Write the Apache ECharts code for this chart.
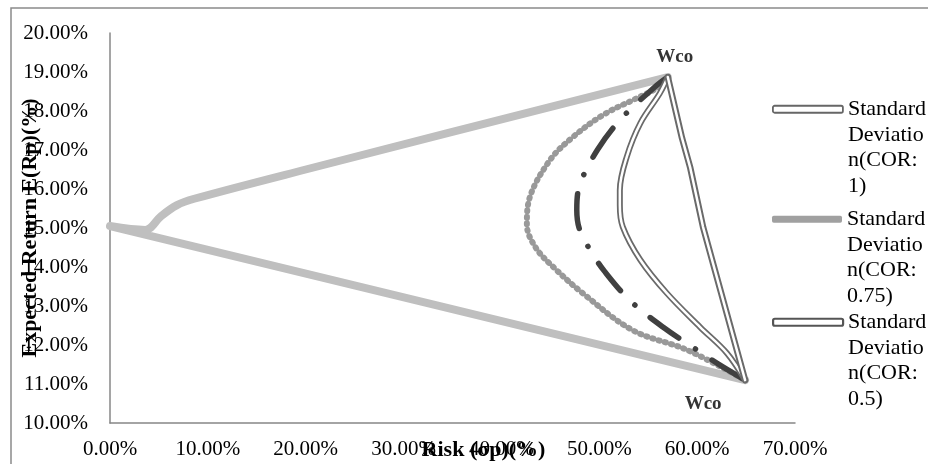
<!DOCTYPE html>
<html>
<head>
<meta charset="utf-8">
<script src="https://cdn.jsdelivr.net/npm/echarts@6/dist/echarts.min.js"></script>
<style>
  html, body { margin: 0; padding: 0; background: #fff; }
  #main { width: 928px; height: 464px; }
</style>
</head>
<body>
<div id="main"></div>
<script>
// [risk σp (%), expected return E(Rp) (%)]
const corOne = [[57.0, 18.87], [58.45, 17.31], [59.3, 16.54], [60.6, 15.03], [64.9, 11.1]];
const corHalf = [[57.0, 18.87], [56.2, 18.46], [54.2, 17.69], [52.8, 16.82], [52.1, 15.97], [52.1, 15.59],
  [52.4, 15.03], [54.2, 14.18], [56.9, 13.33], [60.3, 12.46], [63.05, 11.79], [64.9, 11.1]];
const corQuarter = [[57.0, 18.87], [55.7, 18.62], [52.3, 17.82], [49.8, 17.0], [48.0, 16.1], [47.7, 15.46],
  [48.0, 14.95], [49.25, 14.36], [50.5, 13.9], [53.1, 13.15], [56.5, 12.46], [60.0, 11.87], [62.3, 11.49], [64.9, 11.1]];
const corZero = [[57.0, 18.87], [55.9, 18.59], [53.85, 18.33], [50.4, 17.9], [47.2, 17.31], [44.96, 16.74],
  [42.9, 15.79], [42.6, 15.08], [43.5, 14.5], [45.3, 14.0], [48.3, 13.33], [53.4, 12.38], [59.0, 11.87], [64.9, 11.1]];
const corNegOne = [[64.9, 11.1], [0, 15.05], [3.6, 14.95], [5.2, 15.3], [6.8, 15.58], [8.6, 15.75], [20, 16.5], [57.0, 18.87]];
const wcoPoints = [[57.0, 18.87], [64.9, 11.1]];

const xMin = 0, xMax = 70, xStep = 10;
const yMin = 10, yMax = 20, yStep = 1;

const legendNames = ["Standard Deviation(COR: 1)", "Standard Deviation(COR: 0.75)", "Standard Deviation(COR: 0.5)"];
// three blank lines first so the first text line sits level with the icon
const legendWrapped = {
  "Standard Deviation(COR: 1)": "\n\n\nStandard\nDeviatio\nn(COR:\n1)",
  "Standard Deviation(COR: 0.75)": "\n\n\nStandard\nDeviatio\nn(COR:\n0.75)",
  "Standard Deviation(COR: 0.5)": "\n\n\nStandard\nDeviatio\nn(COR:\n0.5)"
};

const serif = "Liberation Serif";

const legendIcons = [
  { color: "#fff", borderColor: "#666", borderWidth: 1.8 },
  { color: "#a0a0a0", borderColor: "#a0a0a0", borderWidth: 0 },
  { color: "#fff", borderColor: "#555", borderWidth: 2.2 }
];
const legendTops = [20, 130, 233];

function makeLegend(i) {
  return {
    left: 772,
    top: legendTops[i],
    orient: "vertical",
    padding: 0,
    itemWidth: 70,
    itemHeight: 7,
    itemGap: 0,
    selectedMode: false,
    data: [{ name: legendNames[i], icon: "roundRect", itemStyle: legendIcons[i] }],
    formatter: name => legendWrapped[name],
    textStyle: {
      fontFamily: serif,
      fontSize: 22,
      lineHeight: 25.5,
      color: "#000"
    }
  };
}

function lineSeries(name, data, style, z) {
  return {
    name: name,
    type: "line",
    data: data,
    showSymbol: false,
    symbol: "none",
    smooth: 0.35,
    z: z,
    silent: true,
    lineStyle: style,
    itemStyle: { color: style.color }
  };
}

const chart = echarts.init(document.getElementById("main"));
chart.setOption({
  animation: false,
  backgroundColor: "#fff",
  legend: [makeLegend(0), makeLegend(1), makeLegend(2)],
  grid: { left: 110, right: 133, top: 33, bottom: 41, outerBoundsMode: "none", containLabel: false },
  xAxis: {
    type: "value",
    min: xMin,
    max: xMax,
    interval: xStep,
    name: "Risk (σp)(%)",
    nameLocation: "middle",
    nameGap: 16,
    nameMoveOverlap: false,
    nameTextStyle: { fontFamily: serif, fontSize: 22, fontWeight: "bold", color: "#000", padding: [0, 0, 0, 62] },
    axisLine: { show: true, lineStyle: { color: "#878787", width: 1.5 } },
    axisTick: { show: false },
    splitLine: { show: false },
    axisLabel: {
      margin: 16,
      fontFamily: serif,
      fontSize: 21,
      color: "#000",
      formatter: v => v.toFixed(2) + "%"
    }
  },
  yAxis: {
    type: "value",
    min: yMin,
    max: yMax,
    interval: yStep,
    name: "Expected Return E(Rp)(%)",
    nameLocation: "middle",
    nameRotate: 90,
    nameGap: 69,
    nameMoveOverlap: false,
    nameTextStyle: { fontFamily: serif, fontSize: 22, fontWeight: "bold", color: "#000" },
    axisLine: { show: true, lineStyle: { color: "#878787", width: 1.5 } },
    axisTick: { show: false },
    splitLine: { show: false },
    axisLabel: {
      margin: 22,
      fontFamily: serif,
      fontSize: 21,
      color: "#000",
      formatter: v => v.toFixed(2) + "%"
    }
  },
  graphic: [{
    type: "rect",
    shape: { x: 11, y: 8, width: 1000, height: 1000 },
    style: { fill: "none", stroke: "#8a8a8a", lineWidth: 1.5 },
    silent: true
  }],
  series: [
    lineSeries("Standard Deviation(COR: -1)", corNegOne,
      { color: "#bfbfbf", width: 8, cap: "round", join: "round" }, 2),
    lineSeries("Standard Deviation(COR: 0.75)", corZero,
      { color: "#999", width: 6, type: [1, 5.5], cap: "round", join: "round" }, 3),
    lineSeries("Standard Deviation(COR: 0.25)", corQuarter,
      { color: "#404040", width: 5.5, type: [35, 20, 0.1, 20], cap: "round", join: "round" }, 4),
    lineSeries("Standard Deviation(COR: 0.5)", corHalf,
      { color: "#6a6a6a", width: 6, cap: "round", join: "round" }, 5),
    lineSeries("COR 0.5 inner", corHalf,
      { color: "#fff", width: 2.5, cap: "round", join: "round" }, 6),
    Object.assign(lineSeries("Standard Deviation(COR: 1)", corOne,
      { color: "#6a6a6a", width: 6.5, cap: "round", join: "round" }, 7), { smooth: false }),
    Object.assign(lineSeries("COR 1 inner", corOne,
      { color: "#fff", width: 2.5, cap: "round", join: "round" }, 8), { smooth: false }),
    {
      name: "Wco",
      type: "scatter",
      symbolSize: 0,
      silent: true,
      z: 10,
      data: [
        { value: wcoPoints[0], label: { position: "top", distance: 10, offset: [7, 0] } },
        { value: wcoPoints[1], label: { position: "bottom", distance: 14, offset: [-42, 0] } }
      ],
      label: {
        show: true,
        formatter: "Wco",
        fontFamily: serif,
        fontSize: 19,
        fontWeight: "bold",
        color: "#000"
      }
    }
  ]
});
</script>
</body>
</html>
